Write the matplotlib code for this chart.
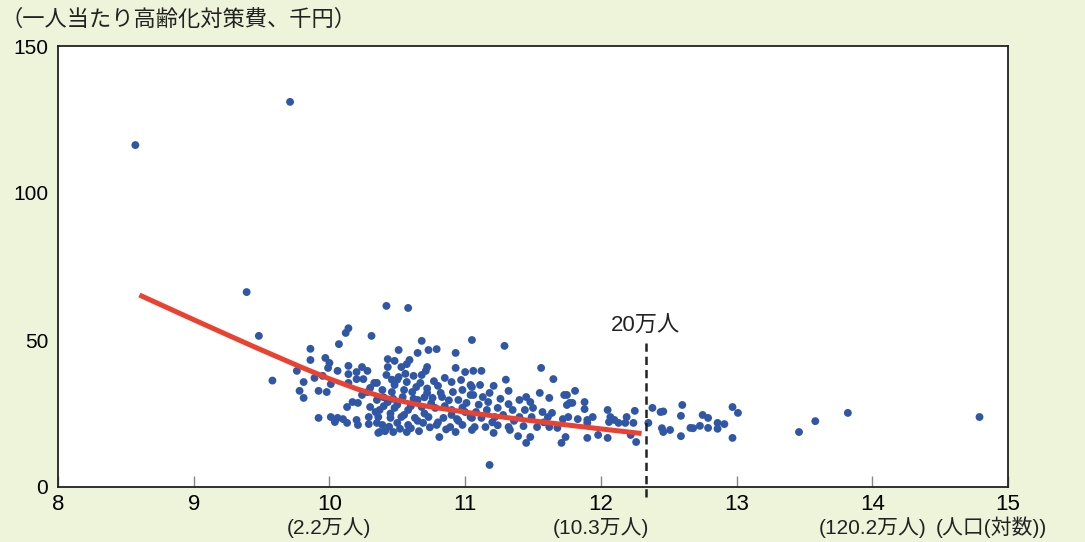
import matplotlib
matplotlib.use("Agg")
import matplotlib.pyplot as plt

# per-town samples: (log population, per-capita elderly cost in 1000 yen)
outliers = [(8.57, 116.3), (9.71, 131.0), (9.39, 66.3), (9.48, 51.4), (9.58, 36.2),
            (10.42, 61.6), (10.58, 60.9), (10.14, 54.0), (10.12, 52.4), (10.31, 51.4),
            (11.05, 50.0), (11.29, 48.0), (11.18, 7.5), (10.68, 49.7)]

cluster_west = [(9.76, 39.5), (9.78, 32.7), (9.81, 35.7), (9.81, 30.3), (9.86, 47.0),
                (9.86, 43.2), (9.89, 37.1), (9.92, 32.7), (9.92, 23.5), (9.95, 37.8),
                (9.97, 43.9), (9.98, 32.3), (9.99, 40.5), (10.00, 42.2), (10.01, 35.0),
                (10.01, 23.8), (10.04, 22.1), (10.06, 39.5), (10.06, 23.5), (10.07, 48.6),
                (10.10, 23.1), (10.13, 27.2), (10.13, 21.8), (10.14, 41.2), (10.14, 38.4),
                (10.14, 35.4), (10.17, 28.9), (10.20, 39.1), (10.20, 36.7), (10.20, 22.8),
                (10.21, 28.6), (10.21, 21.1), (10.24, 40.8), (10.24, 31.3), (10.25, 36.7),
                (10.28, 39.5), (10.28, 32.3), (10.29, 23.8), (10.29, 21.4), (10.30, 33.7),
                (10.30, 27.2), (10.33, 35.4), (10.34, 25.5), (10.35, 29.6), (10.35, 21.8),
                (10.36, 18.4)]

cluster_core = [(10.35, 35.4), (10.36, 23.8), (10.37, 26.2), (10.37, 18.7), (10.39, 33.0),
                (10.39, 21.1), (10.41, 19.0), (10.42, 38.1), (10.43, 43.5), (10.43, 40.8),
                (10.43, 28.9), (10.45, 23.5), (10.46, 32.3), (10.47, 18.7), (10.48, 42.9),
                (10.48, 34.7), (10.48, 26.9), (10.50, 21.8), (10.51, 46.6), (10.51, 37.4),
                (10.53, 40.8), (10.53, 23.8), (10.54, 30.6), (10.57, 41.8), (10.57, 35.7),
                (10.57, 18.7), (10.58, 26.2), (10.58, 21.1), (10.59, 43.2), (10.61, 32.3),
                (10.62, 37.8), (10.63, 23.5), (10.65, 45.6), (10.65, 29.6), (10.67, 35.4),
                (10.68, 38.1), (10.68, 27.2), (10.69, 21.8), (10.71, 39.5), (10.72, 40.8),
                (10.72, 32.0), (10.73, 46.6), (10.73, 23.8), (10.76, 30.3), (10.78, 26.9),
                (10.79, 46.9), (10.79, 21.1), (10.80, 34.4), (10.81, 17.0), (10.83, 30.6),
                (10.84, 23.5), (10.85, 37.1), (10.89, 20.4), (10.90, 35.7), (10.90, 26.2),
                (10.91, 32.3), (10.93, 45.6), (10.93, 40.5), (10.93, 18.7), (10.94, 23.1),
                (10.95, 29.6), (10.97, 36.4), (10.98, 33.0), (10.98, 21.1), (11.00, 39.1),
                (11.00, 25.5), (11.01, 28.6), (11.04, 34.7), (11.04, 31.3), (11.05, 23.5),
                (11.05, 19.4), (10.40, 30.5), (10.50, 28.0), (10.60, 27.5), (10.70, 25.0),
                (10.75, 28.5), (10.85, 27.5), (10.90, 24.5), (10.45, 25.0), (10.55, 24.5),
                (10.65, 22.5), (10.80, 22.0), (10.95, 22.5), (10.62, 30.0), (10.72, 33.5),
                (10.50, 36.5), (10.44, 20.5), (10.52, 19.8), (10.60, 20.0), (10.66, 19.0),
                (10.74, 20.3), (10.86, 19.6), (10.40, 27.5), (10.47, 30.0), (10.55, 33.0),
                (10.64, 34.0), (10.77, 36.0), (10.82, 32.0), (10.88, 29.5), (10.98, 27.0),
                (10.56, 38.5), (10.46, 36.5), (10.70, 30.5)]

cluster_east = [(11.06, 39.5), (11.12, 39.5), (11.05, 34.0), (11.11, 34.7), (11.21, 34.4),
                (11.56, 40.5), (11.65, 36.7), (11.32, 32.7), (11.06, 31.3), (11.13, 30.6),
                (11.55, 32.0), (11.73, 31.3), (11.17, 28.9), (11.40, 29.6), (11.45, 30.6),
                (11.48, 28.9), (11.62, 30.3), (11.75, 27.9), (11.32, 28.2), (11.24, 26.9),
                (11.35, 26.2), (11.44, 26.2), (11.50, 26.9), (11.57, 25.5), (11.64, 25.2),
                (11.08, 25.5), (11.16, 26.2), (11.04, 23.8), (11.12, 23.5), (11.22, 23.8),
                (11.40, 23.8), (11.49, 23.8), (11.61, 23.8), (11.72, 23.1), (11.07, 20.4),
                (11.15, 20.4), (11.32, 20.4), (11.43, 20.7), (11.53, 20.4), (11.62, 20.4),
                (11.68, 20.1), (11.21, 18.4), (11.33, 19.4), (11.39, 17.3), (11.48, 17.0),
                (11.45, 15.0), (11.71, 15.0), (11.10, 28.0), (11.20, 22.0), (11.28, 24.5),
                (11.36, 22.5), (11.26, 30.0), (11.18, 32.0), (11.30, 36.5), (11.24, 21.0),
                (11.58, 22.0)]

cluster_far = [(11.81, 32.7), (11.75, 31.3), (11.77, 28.6), (11.79, 28.6), (11.88, 28.9),
               (11.88, 26.5), (12.05, 26.2), (12.25, 25.9), (11.76, 23.8), (11.83, 23.1),
               (11.90, 22.8), (11.94, 23.8), (12.07, 23.8), (12.10, 22.8), (12.19, 23.8),
               (11.90, 21.8), (12.06, 22.1), (12.13, 21.8), (12.18, 21.8), (12.24, 21.8),
               (11.98, 17.7), (12.05, 16.7), (12.22, 17.7), (11.90, 16.7), (12.26, 15.3),
               (11.74, 17.0)]

large_towns = [(12.38, 26.9), (12.44, 25.5), (12.46, 25.7), (12.60, 27.9), (12.59, 24.2),
               (12.75, 24.5), (12.79, 23.5), (12.97, 27.2), (13.01, 25.2), (12.35, 21.8),
               (12.45, 20.0), (12.46, 18.7), (12.51, 19.4), (12.59, 17.3), (12.66, 20.1),
               (12.68, 20.0), (12.73, 20.8), (12.79, 20.1), (12.86, 21.8), (12.86, 19.8),
               (12.91, 21.4), (12.97, 16.7), (13.46, 18.7), (13.58, 22.4), (13.82, 25.2),
               (14.79, 23.8)]

# fitted curve
curve_x = [8.6, 9.0, 9.27, 9.44, 9.64, 9.78, 10.0, 10.2, 10.38, 10.6, 10.74, 11.07,
           11.48, 11.77, 12.05, 12.3]
curve_y = [65.3, 56.9, 51.3, 47.8, 43.8, 41.0, 36.8, 33.4, 30.8, 28.5, 27.3, 25.0,
           22.6, 21.0, 19.5, 18.2]

line_20man = 12.33
x_ticks = [8, 9, 10, 11, 12, 13, 14, 15]
y_ticks = [0, 50, 100, 150]
pop_notes = [(10, "(2.2万人)"), (12, "(10.3万人)"), (14, "(120.2万人)")]

latin = "Liberation Sans"
cjk = "Noto Sans CJK JP"

samples = outliers + cluster_west + cluster_core + cluster_east + cluster_far + large_towns
xs = [p[0] for p in samples]
ys = [p[1] for p in samples]

bg = "#eef4da"
fig = plt.figure(figsize=(10.85, 5.42), dpi=100, facecolor=bg)
ax = fig.add_axes([58 / 1085, 55 / 542, 950 / 1085, 441 / 542])
ax.set_facecolor("white")

ax.scatter(xs, ys, s=32, color="#2f57a5", edgecolors="none", zorder=3)
ax.plot(curve_x, curve_y, color="#ea4130", lw=3.6, solid_capstyle="butt",
        solid_joinstyle="round", zorder=4)
ax.plot([line_20man, line_20man], [-3.5, 49], color="#222222", lw=1.8,
        dashes=(3.3, 2.0), clip_on=False, zorder=5)
ax.text(line_20man, 54.8, "20万人", ha="center", va="center", fontsize=16,
        family=[latin, cjk], color="#222222")

ax.set_xlim(8, 15)
ax.set_ylim(0, 150)
ax.set_xticks(x_ticks)
ax.set_yticks(y_ticks)
ax.set_xticklabels([str(t) for t in x_ticks], family=latin, fontsize=16)
ax.set_yticklabels([str(t) for t in y_ticks], family=latin, fontsize=15)
ax.tick_params(axis="x", direction="in", length=8, width=1, color="#888888", pad=5)
ax.tick_params(axis="y", length=0, pad=7)
for s in ax.spines.values():
    s.set_linewidth(1.3)
    s.set_color("#222222")

for xv, txt in pop_notes:
    ax.text(xv, -13.8, txt, ha="center", va="center", fontsize=15,
            family=[latin, cjk], color="#222222")
ax.text(14.47, -13.8, "(人口(対数))", ha="left", va="center", fontsize=15,
        family=[latin, cjk], color="#222222")

fig.text(0.0, 0.985, "（一人当たり高齢化対策費、千円）", ha="left", va="top",
         fontsize=16, family=[cjk], color="#222222")

fig.savefig("out.png", dpi=100, facecolor=bg)
